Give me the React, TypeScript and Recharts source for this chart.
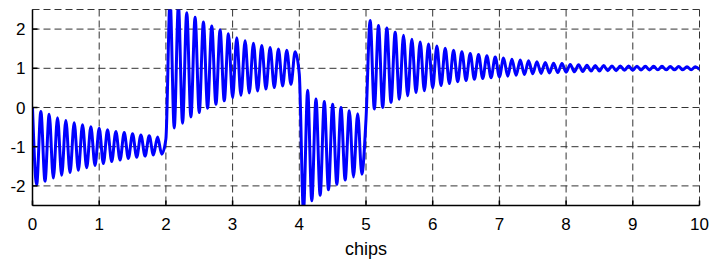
import { LineChart, Line, XAxis, YAxis, CartesianGrid } from "recharts";

// samples every 1/16 chip (peaks and troughs)
const SAMPLES_PER_CHIP = 16;

// chips 0-2 (level -1), starts at 0
const seg1 = [
    0,
    -1.97, -0.1, -1.88, -0.17, -1.8, -0.26, -1.73, -0.33,
    -1.66, -0.39, -1.6, -0.44, -1.54, -0.49, -1.48, -0.53,
    -1.43, -0.57, -1.38, -0.61, -1.34, -0.64, -1.3, -0.67,
    -1.27, -0.7, -1.24, -0.72, -1.21, -0.75, -1.19, -0.8,
];

// chips 2-4 (level +1)
const seg2 = [
    2.75, -0.52, 2.6, -0.4, 2.42, -0.24, 2.3, -0.13,
    2.18, -0.02, 2.08, 0.08, 1.98, 0.17, 1.88, 0.25,
    1.78, 0.31, 1.7, 0.37, 1.64, 0.42, 1.58, 0.47,
    1.53, 0.51, 1.49, 0.55, 1.46, 0.59, 1.42, 0.85,
];

// chip 4-5 (level -1)
const seg3 = [
    -2.65, 0.44, -2.38, 0.22, -2.24, 0.15, -2.1, 0.08,
    -1.96, 0.0, -1.85, -0.08, -1.77, -0.16, -1.7, -0.3,
];

// chips 5-10 (level +1), settling
const seg4 = [
    2.22, -0.04, 2.09, 0.0, 2.03, 0.13, 1.92, 0.21,
    1.84, 0.3, 1.74, 0.38, 1.67, 0.43, 1.62, 0.5,
    1.57, 0.56, 1.51, 0.61, 1.46, 0.66, 1.42, 0.69,
    1.38, 0.72, 1.35, 0.74, 1.32, 0.76, 1.29, 0.78,
    1.26, 0.8, 1.23, 0.82, 1.21, 0.84, 1.19, 0.86,
    1.17, 0.87, 1.15, 0.88, 1.13, 0.89, 1.12, 0.9,
    1.1, 0.91, 1.09, 0.92, 1.08, 0.93, 1.07, 0.93,
    1.07, 0.94, 1.06, 0.94, 1.06, 0.95, 1.06, 0.95,
    1.055, 0.955, 1.05, 0.955, 1.05, 0.96, 1.05, 0.96,
    1.045, 0.96, 1.045, 0.96, 1.04, 0.965, 1.04, 0.97,
];

const xTicks = [0, 1, 2, 3, 4, 5, 6, 7, 8, 9, 10];
const yTicks = [-2, -1, 0, 1, 2];

const data = [...seg1, ...seg2, ...seg3, ...seg4].map((v, i) => ({
    t: i / SAMPLES_PER_CHIP,
    v,
}));

const font = { fontFamily: "'Liberation Sans', Arial, sans-serif", fontSize: 17, fill: "#000" };

export default function App() {
    return (
        <div style={{ position: "absolute", left: 0, top: 0, background: "#fff" }}>
            <LineChart
                width={712}
                height={262}
                data={data}
                margin={{ top: 9.5, right: 12.5, bottom: 0.5, left: 0 }}
            >
                <CartesianGrid stroke="#333" strokeDasharray="7 4" />
                <XAxis
                    dataKey="t"
                    type="number"
                    domain={[0, 10]}
                    ticks={xTicks}
                    allowDataOverflow
                    height={56}
                    tickSize={-5}
                    tickMargin={17}
                    tick={font}
                    stroke="#000"
                    strokeWidth={1.5}
                    label={{ value: "chips", position: "insideBottom", offset: 6.5, style: { ...font, fontSize: 18 } }}
                />
                <XAxis
                    xAxisId="top"
                    orientation="top"
                    type="number"
                    domain={[0, 10]}
                    ticks={xTicks}
                    height={0}
                    tickSize={-5}
                    tick={false}
                    stroke="#000"
                    strokeWidth={1.5}
                />
                <YAxis
                    type="number"
                    domain={[-2.5, 2.5]}
                    ticks={yTicks}
                    allowDataOverflow
                    width={32.5}
                    tickSize={-5}
                    tickMargin={12}
                    tick={font}
                    stroke="#000"
                    strokeWidth={1.5}
                />
                <YAxis
                    yAxisId="r"
                    orientation="right"
                    type="number"
                    domain={[-2.5, 2.5]}
                    ticks={yTicks}
                    width={0}
                    tickSize={-5}
                    tick={false}
                    stroke="#000"
                    strokeWidth={1.5}
                />
                <Line
                    dataKey="v"
                    type="monotone"
                    stroke="#0000ff"
                    strokeWidth={3}
                    dot={false}
                    isAnimationActive={false}
                />
            </LineChart>
        </div>
    );
}
